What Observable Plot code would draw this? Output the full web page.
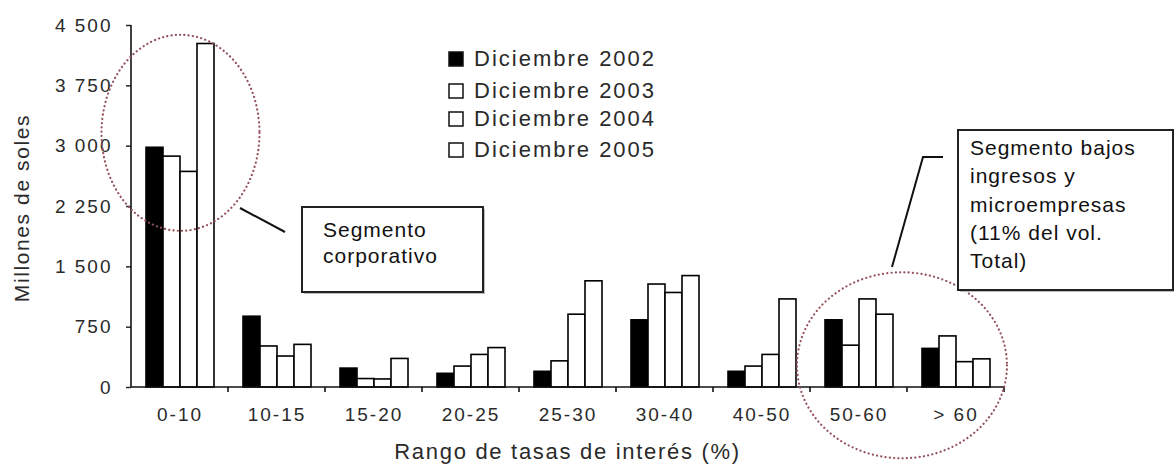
<!DOCTYPE html>
<html>
<head>
<meta charset="utf-8">
<script src="https://cdn.jsdelivr.net/npm/d3@7"></script>
<script src="https://cdn.jsdelivr.net/npm/@observablehq/plot@0.6"></script>
<style>
  html, body { margin: 0; padding: 0; background: #fff; }
  #chart { position: relative; width: 1174px; height: 473px; }
  #chart svg { font-family: "Liberation Sans", Arial, sans-serif; }
  #chart svg text { fill: #2a2a2a; }
</style>
</head>
<body>
<div id="chart"></div>
<script>
// ---- Data ----
const categories = ["0-10", "10-15", "15-20", "20-25", "25-30", "30-40", "40-50", "50-60", "> 60"];
const series = ["Diciembre 2002", "Diciembre 2003", "Diciembre 2004", "Diciembre 2005"];
const v2002 = [2980, 880, 235, 170, 195, 835, 195, 835, 480];
const v2003 = [2870, 510, 105, 260, 325, 1280, 260, 520, 635];
const v2004 = [2680, 385, 100, 405, 905, 1175, 405, 1095, 315];
const v2005 = [4270, 530, 355, 490, 1320, 1385, 1095, 905, 350];
const yTicks = [0, 750, 1500, 2250, 3000, 3750, 4500];
const yTitle = "Millones de soles";
const xTitle = "Rango de tasas de interés (%)";
const note1 = ["Segmento", "corporativo"];
const note2 = ["Segmento bajos", "ingresos y", "microempresas", "(11% del vol.", "Total)"];

const seriesValues = [v2002, v2003, v2004, v2005];
const rows = [];
series.forEach((s, j) => categories.forEach((c, i) => rows.push({cat: c, series: s, value: seriesValues[j][i]})));

const fmt = d => d3.format(",")(d).replace(/,/g, " ");

const W = 1174, H = 473;
const plot = Plot.plot({
  width: W, height: H,
  marginLeft: 129, marginRight: 169, marginTop: 25, marginBottom: 86,
  fx: {domain: categories, padding: 0, axis: null, label: null},
  x: {domain: series, paddingInner: 0, paddingOuter: 0.73, axis: null, label: null},
  y: {domain: [0, 4500], axis: null, label: null},
  color: {domain: series, range: ["#000", "#fff", "#fff", "#fff"]},
  marks: [
    Plot.barY(rows, {fx: "cat", x: "series", y: "value", fill: "series", stroke: "#000", strokeWidth: 1.6}),
    Plot.axisFx({anchor: "bottom", label: null, tickSize: 0, tickPadding: 20, fontSize: 19, color: "#2a2a2a"}),
    Plot.axisY({ticks: yTicks, label: null, tickFormat: fmt, tickSize: 5, tickPadding: 14, fontSize: 19, color: "#2a2a2a", strokeWidth: 1.5})
  ]
});
document.getElementById("chart").appendChild(plot);

// letter spacing for scanned look of axis tick labels
d3.select(plot).selectAll("g[aria-label='fx-axis tick label'] text, g[aria-label='y-axis tick label'] text")
  .style("letter-spacing", "2px");

// ---- Decorations positioned from the library's scales ----
const fx = plot.scale("fx"), y = plot.scale("y");
const svg = d3.select(plot);
const x0 = fx.apply(categories[0]);
const xEnd = fx.apply(categories[categories.length - 1]) + fx.bandwidth;
const y0 = y.apply(0), yTop = y.apply(4500);
const g = svg.append("g").attr("stroke", "#111").attr("stroke-width", 1.6).attr("fill", "none");
g.append("line").attr("x1", x0).attr("x2", x0).attr("y1", yTop).attr("y2", y0);
g.append("line").attr("x1", x0).attr("x2", xEnd).attr("y1", y0).attr("y2", y0);
categories.forEach(c => {
  const xb = fx.apply(c) + fx.bandwidth;
  g.append("line").attr("x1", xb).attr("x2", xb).attr("y1", y0).attr("y2", y0 + 5);
});

// axis titles
svg.append("text").attr("transform", `translate(22,${(y0 + yTop) / 2 + 2}) rotate(-90)`)
  .attr("text-anchor", "middle").attr("dy", "0.35em").attr("font-size", 21)
  .style("letter-spacing", "1.6px").text(yTitle);
svg.append("text").attr("x", (x0 + xEnd) / 2).attr("y", 459)
  .attr("text-anchor", "middle").attr("font-size", 22)
  .style("letter-spacing", "1.7px").text(xTitle);

// legend
const lg = svg.append("g").attr("text-anchor", "start");
const legendBase = [66, 98, 126, 157];
series.forEach((s, j) => {
  lg.append("rect").attr("x", 449).attr("y", legendBase[j] - 14).attr("width", 14).attr("height", 14)
    .attr("fill", j === 0 ? "#000" : "#fff").attr("stroke", "#111").attr("stroke-width", 1.5);
  lg.append("text").attr("x", 474).attr("y", legendBase[j]).attr("font-size", 22)
    .attr("text-anchor", "start").style("letter-spacing", "2px").text(s);
});

// dotted ellipses
const dots = svg.append("g").attr("fill", "none").attr("stroke", "#94505a").attr("stroke-width", 2.2)
  .attr("stroke-dasharray", "0.1 4.2").attr("stroke-linecap", "round");
dots.append("ellipse").attr("cx", fx.apply("0-10") + fx.bandwidth / 2 + 1).attr("cy", y.apply(3160))
  .attr("rx", 79).attr("ry", 98);
dots.append("ellipse").attr("cx", fx.apply("> 60") - 5).attr("cy", y.apply(270))
  .attr("rx", 105).attr("ry", 93);

// callout boxes
const cb = svg.append("g").attr("text-anchor", "start");
cb.append("line").attr("x1", 240).attr("y1", 208).attr("x2", 285).attr("y2", 232)
  .attr("stroke", "#111").attr("stroke-width", 2);
cb.append("rect").attr("x", 304).attr("y", 209).attr("width", 181).attr("height", 85).attr("fill", "#bbb");
cb.append("rect").attr("x", 302).attr("y", 207).attr("width", 181).attr("height", 85)
  .attr("fill", "#fff").attr("stroke", "#222").attr("stroke-width", 2);
note1.forEach((t, i) => cb.append("text").attr("x", 323).attr("y", 237 + i * 26).attr("font-size", 21)
  .attr("text-anchor", "start").style("letter-spacing", "1px").style("fill", "#111").text(t));

cb.append("polyline").attr("points", "943,157 923,157 892,267").attr("fill", "none")
  .attr("stroke", "#111").attr("stroke-width", 2);
cb.append("rect").attr("x", 960).attr("y", 132).attr("width", 220).attr("height", 160).attr("fill", "#bbb");
cb.append("rect").attr("x", 958).attr("y", 130).attr("width", 215).attr("height", 160)
  .attr("fill", "#fff").attr("stroke", "#222").attr("stroke-width", 2);
note2.forEach((t, i) => cb.append("text").attr("x", 970).attr("y", 155 + i * 28.3).attr("font-size", 21)
  .attr("text-anchor", "start").style("letter-spacing", "1px").style("fill", "#111").text(t));
</script>
</body>
</html>
